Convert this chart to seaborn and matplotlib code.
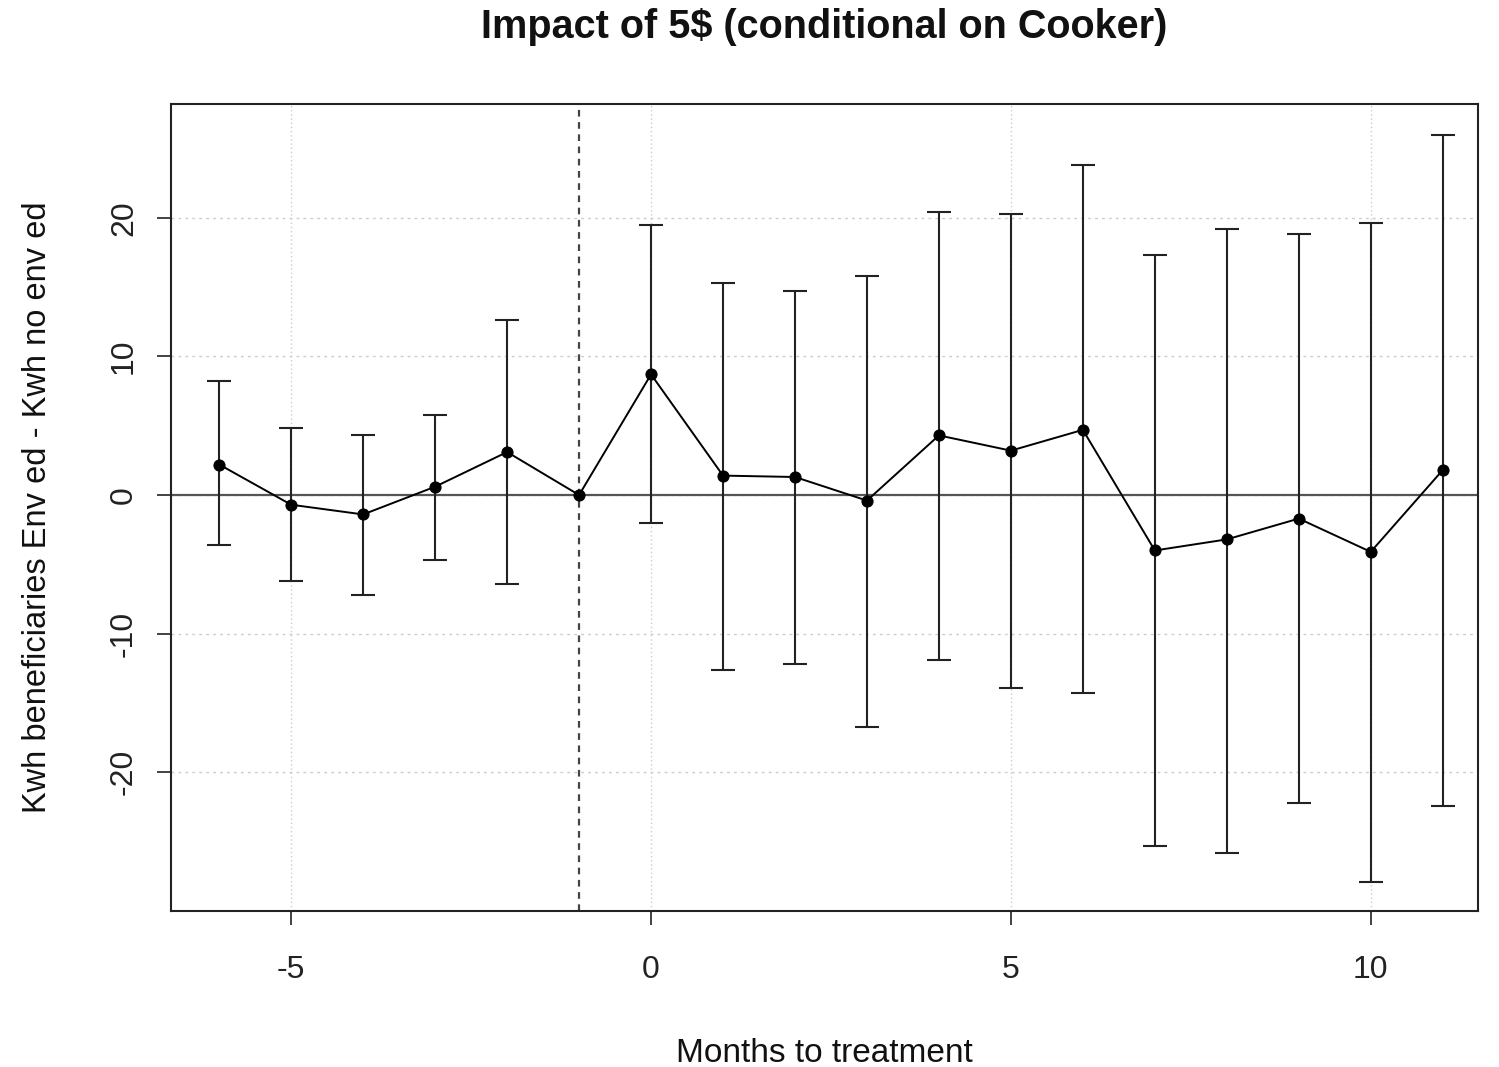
import matplotlib
matplotlib.use("Agg")
import matplotlib.pyplot as plt
import seaborn as sns
import pandas as pd
import numpy as np

months = [-6, -5, -4, -3, -2, -1, 0, 1, 2, 3, 4, 5, 6, 7, 8, 9, 10, 11]
estimate = [2.2, -0.7, -1.4, 0.6, 3.1, 0.0, 8.7, 1.4, 1.3, -0.4, 4.3, 3.2, 4.7, -4.0, -3.2, -1.7, -4.1, 1.8]
upper = [8.2, 4.8, 4.3, 5.8, 12.6, 0.0, 19.5, 15.3, 14.7, 15.8, 20.4, 20.3, 23.8, 17.3, 19.2, 18.8, 19.6, 26.0]
lower = [-3.6, -6.2, -7.2, -4.7, -6.4, 0.0, -2.0, -12.6, -12.2, -16.7, -11.9, -13.9, -14.3, -25.3, -25.8, -22.2, -27.9, -22.4]

x_ticks = [-5, 0, 5, 10]
y_ticks = [-20, -10, 0, 10, 20]

df = pd.DataFrame({"month": months, "est": estimate, "up": upper, "lo": lower})

sns.set_theme(style="white")
plt.rcParams["font.family"] = ["Liberation Sans", "DejaVu Sans"]

fig = plt.figure(figsize=(14.99, 10.67), dpi=100)
ax = fig.add_axes([171/1499, 1-911/1067, (1478-171)/1499, (911-104)/1067])

# grid
for xt in x_ticks:
    ax.axvline(xt, color="#cccccc", lw=1, ls=(0, (1, 2)), zorder=0)
for yt in y_ticks:
    ax.axhline(yt, color="#cccccc", lw=1, ls=(0, (2, 3)), zorder=0)

ax.axhline(0, color="#555555", lw=1.6, zorder=1)
ax.axvline(-1, color="#444444", lw=1.6, ls=(0, (3, 2.5)), zorder=1)

# error bars (skip reference month with no interval)
eb = df[df["up"] != df["lo"]]
ax.errorbar(eb["month"], eb["est"],
            yerr=[eb["est"] - eb["lo"], eb["up"] - eb["est"]],
            fmt="none", ecolor="#222222", elinewidth=1.5, capsize=8.5, capthick=1.5, zorder=2)

sns.lineplot(data=df, x="month", y="est", ax=ax, color="black", lw=1.4,
             marker="o", markersize=8, markeredgecolor="black", zorder=3)

ax.set_xlim(-6.67, 11.49)
ax.set_ylim(-30.0, 28.2)
ax.set_xticks(x_ticks)
ax.set_yticks(y_ticks)
ax.set_xticklabels([str(v) for v in x_ticks], fontsize=23)
ax.set_yticklabels([str(v) for v in y_ticks], fontsize=23, rotation=90, va="center")
ax.tick_params(axis="both", direction="out", length=10, width=1.2, colors="#222222",
               bottom=True, left=True)
ax.tick_params(axis="x", pad=22)
ax.tick_params(axis="y", pad=13)
for s in ax.spines.values():
    s.set_visible(True)
    s.set_color("#222222")
    s.set_linewidth(1.5)

ax.set_xlabel("Months to treatment", fontsize=24, color="#111111")
ax.set_ylabel("Kwh beneficiaries Env ed - Kwh no env ed", fontsize=23.5, color="#111111")
ax.xaxis.set_label_coords(0.5, -0.157)
ax.yaxis.set_label_coords(-0.09, 0.5)
fig.text((171+1478)/2/1499, 1-27/1067, "Impact of 5$ (conditional on Cooker)",
         ha="center", va="center", fontsize=28.5, fontweight="bold", color="#111111")

fig.savefig("out.png", dpi=100)
